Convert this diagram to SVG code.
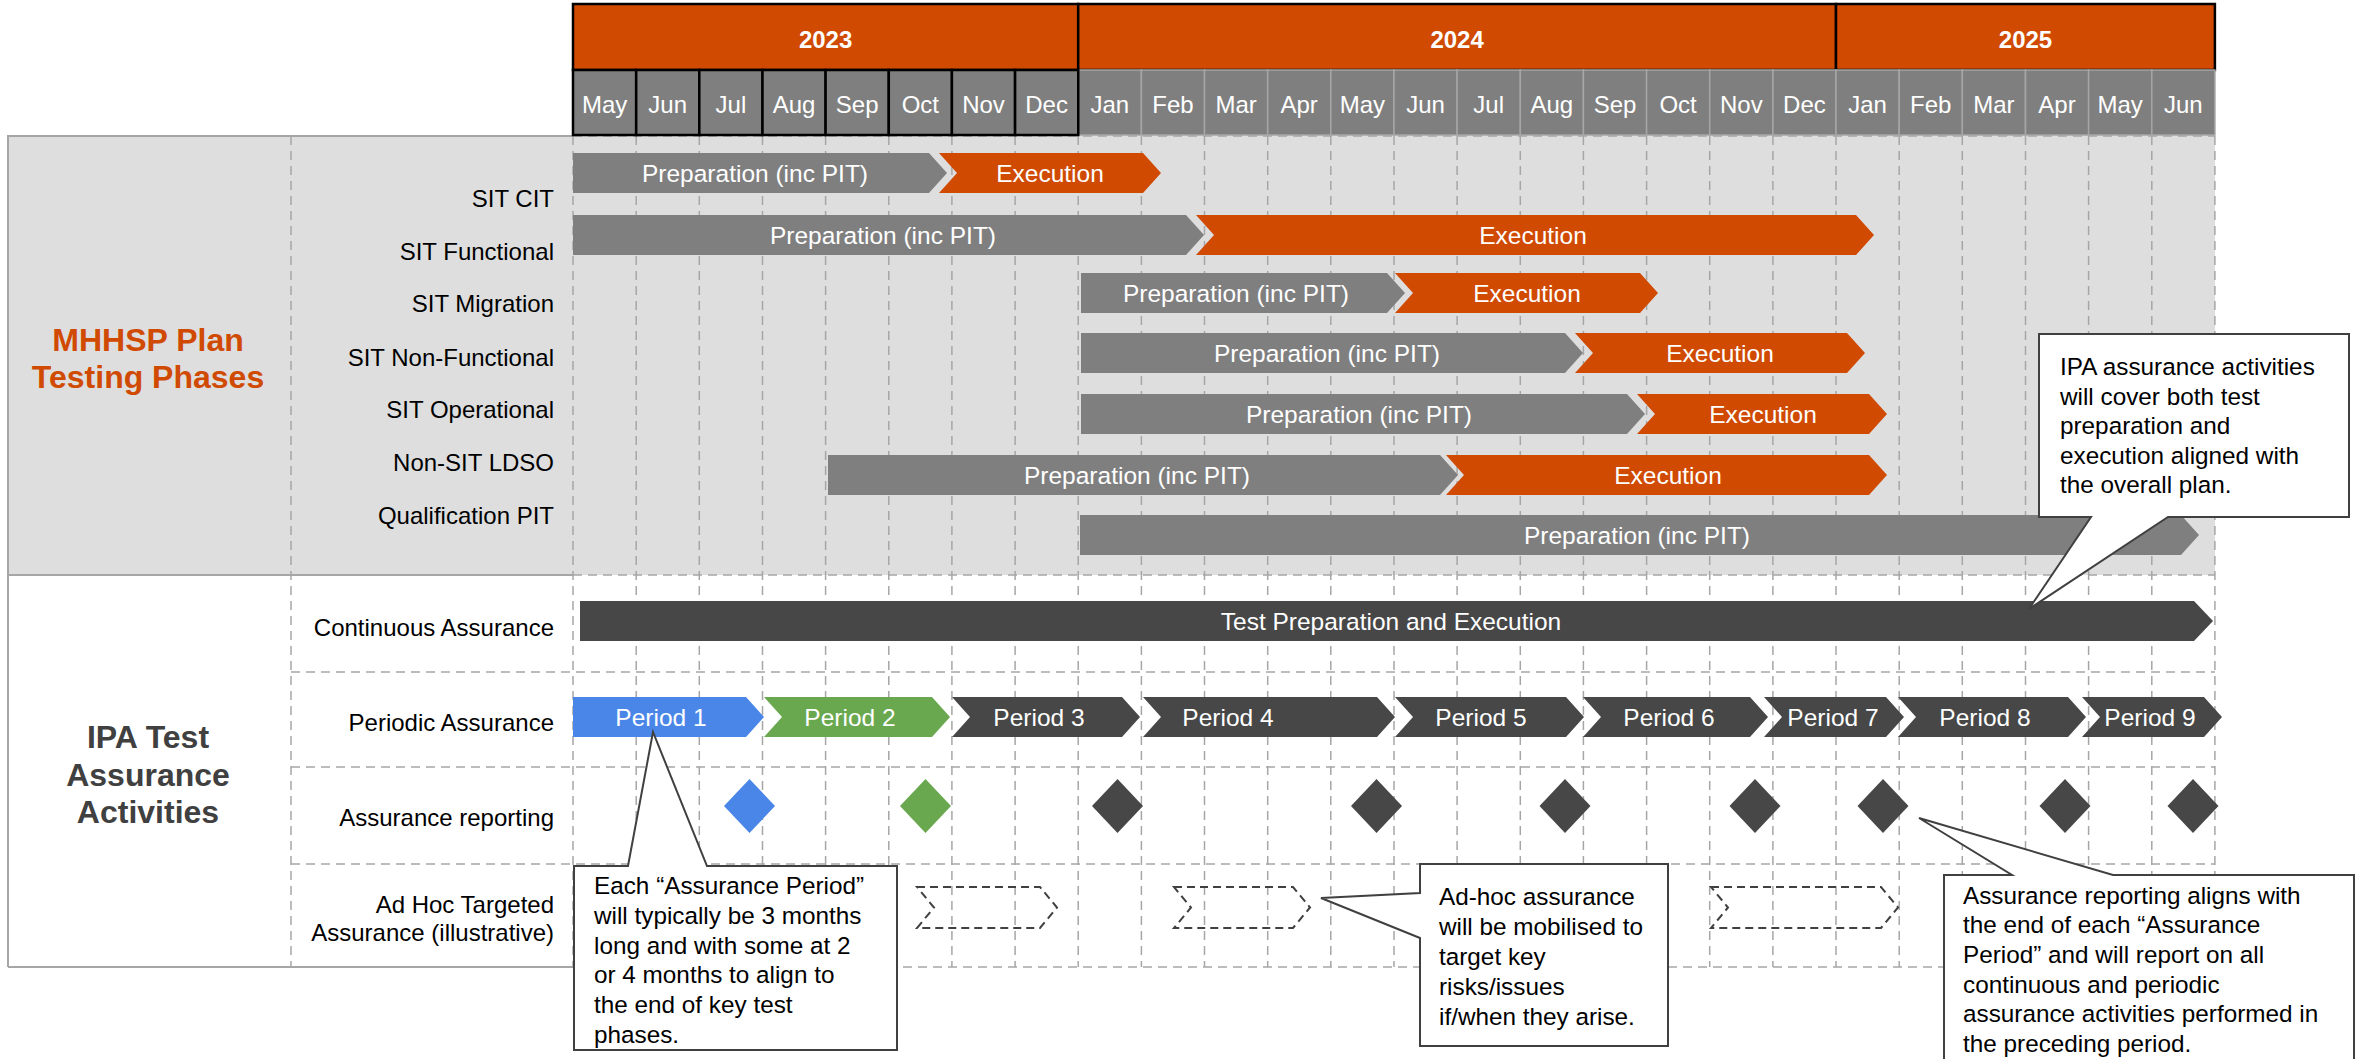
<svg xmlns="http://www.w3.org/2000/svg" width="2357" height="1059" viewBox="0 0 2357 1059">
<style>
text{font-family:"Liberation Sans",Arial,sans-serif;font-size:24.5px}
.yr{fill:#D04A02;stroke:#000;stroke-width:2.5}
.yt{fill:#fff;font-weight:bold;text-anchor:middle;font-size:24px}
.m23{fill:#7F7F7F;stroke:#000;stroke-width:2.5}
.m{fill:#7F7F7F;stroke:#A6A6A6;stroke-width:1.5}
.mt{fill:#fff;text-anchor:middle;font-size:24px}
.grid{stroke:#A6A6A6;stroke-width:1.5;stroke-dasharray:9 6;fill:none}
.solid{stroke:#A6A6A6;stroke-width:2;fill:none}
.lbl{fill:#000;text-anchor:end;font-size:24px}
.prep{fill:#7F7F7F}
.exec{fill:#D04A02}
.dark{fill:#474747}
.blue{fill:#4A86E8}
.green{fill:#6AA84F}
.bt{fill:#fff;text-anchor:middle}
.adhoc{fill:none;stroke:#404040;stroke-width:2;stroke-dasharray:8 5}
.co{fill:#fff;stroke:#404040;stroke-width:2}
.ct{fill:#000;font-size:24.3px}
.sec{font-size:32px;font-weight:bold;text-anchor:middle}
</style>

<!-- backgrounds -->
<rect x="8" y="135" width="2207" height="440" fill="#DEDEDE"/>

<!-- grid -->
<g id="grid">
<path class="grid" d="M291,136V967M573,136V967M636.2,136V967M699.3,136V967M762.5,136V967M825.6,136V967M888.8,136V967M951.9,136V967M1015.1,136V967M1078.2,136V967M1141.4,136V967M1204.5,136V967M1267.7,136V967M1330.8,136V967M1394,136V967M1457.1,136V967M1520.3,136V967M1583.4,136V967M1646.6,136V967M1709.7,136V967M1772.9,136V967M1836,136V967M1899.2,136V967M1962.3,136V967M2025.5,136V967M2088.6,136V967M2151.8,136V967M2214.9,136V967"/>
<path class="grid" d="M573,136H2215M573,575H2215M291,672H2215M291,767H2215M291,864H2215M573,967H2215"/>
<path class="solid" d="M8,135V967M8,136H573M8,575H573M8,967H573"/>
</g>

<!-- header -->
<g id="header">
<rect class="yr" x="573" y="4" width="505.2" height="66"/>
<rect class="yr" x="1078.2" y="4" width="757.8" height="66"/>
<rect class="yr" x="1836" y="4" width="378.9" height="66"/>
<text class="yt" x="825.6" y="48">2023</text>
<text class="yt" x="1457.1" y="48">2024</text>
<text class="yt" x="2025.5" y="48">2025</text>
<rect class="m" x="1078.2" y="70" width="63.15" height="65"/>
<rect class="m" x="1141.4" y="70" width="63.15" height="65"/>
<rect class="m" x="1204.5" y="70" width="63.15" height="65"/>
<rect class="m" x="1267.7" y="70" width="63.15" height="65"/>
<rect class="m" x="1330.8" y="70" width="63.15" height="65"/>
<rect class="m" x="1394" y="70" width="63.15" height="65"/>
<rect class="m" x="1457.1" y="70" width="63.15" height="65"/>
<rect class="m" x="1520.3" y="70" width="63.15" height="65"/>
<rect class="m" x="1583.4" y="70" width="63.15" height="65"/>
<rect class="m" x="1646.6" y="70" width="63.15" height="65"/>
<rect class="m" x="1709.7" y="70" width="63.15" height="65"/>
<rect class="m" x="1772.9" y="70" width="63.15" height="65"/>
<rect class="m" x="1836" y="70" width="63.15" height="65"/>
<rect class="m" x="1899.2" y="70" width="63.15" height="65"/>
<rect class="m" x="1962.3" y="70" width="63.15" height="65"/>
<rect class="m" x="2025.5" y="70" width="63.15" height="65"/>
<rect class="m" x="2088.6" y="70" width="63.15" height="65"/>
<rect class="m" x="2151.8" y="70" width="63.15" height="65"/>
<rect class="m23" x="573" y="70" width="63.15" height="65"/>
<rect class="m23" x="636.2" y="70" width="63.15" height="65"/>
<rect class="m23" x="699.3" y="70" width="63.15" height="65"/>
<rect class="m23" x="762.5" y="70" width="63.15" height="65"/>
<rect class="m23" x="825.6" y="70" width="63.15" height="65"/>
<rect class="m23" x="888.8" y="70" width="63.15" height="65"/>
<rect class="m23" x="951.9" y="70" width="63.15" height="65"/>
<rect class="m23" x="1015.1" y="70" width="63.15" height="65"/>
<text class="mt" x="604.6" y="113">May</text>
<text class="mt" x="667.7" y="113">Jun</text>
<text class="mt" x="730.9" y="113">Jul</text>
<text class="mt" x="794" y="113">Aug</text>
<text class="mt" x="857.2" y="113">Sep</text>
<text class="mt" x="920.3" y="113">Oct</text>
<text class="mt" x="983.5" y="113">Nov</text>
<text class="mt" x="1046.6" y="113">Dec</text>
<text class="mt" x="1109.8" y="113">Jan</text>
<text class="mt" x="1172.9" y="113">Feb</text>
<text class="mt" x="1236.1" y="113">Mar</text>
<text class="mt" x="1299.2" y="113">Apr</text>
<text class="mt" x="1362.4" y="113">May</text>
<text class="mt" x="1425.5" y="113">Jun</text>
<text class="mt" x="1488.7" y="113">Jul</text>
<text class="mt" x="1551.8" y="113">Aug</text>
<text class="mt" x="1615" y="113">Sep</text>
<text class="mt" x="1678.1" y="113">Oct</text>
<text class="mt" x="1741.3" y="113">Nov</text>
<text class="mt" x="1804.4" y="113">Dec</text>
<text class="mt" x="1867.6" y="113">Jan</text>
<text class="mt" x="1930.7" y="113">Feb</text>
<text class="mt" x="1993.9" y="113">Mar</text>
<text class="mt" x="2057" y="113">Apr</text>
<text class="mt" x="2120.2" y="113">May</text>
<text class="mt" x="2183.3" y="113">Jun</text>
</g>

<!-- section titles -->
<g id="section-mhhsp">
<text class="sec" x="148" y="351" fill="#D04A02">MHHSP Plan</text>
<text class="sec" x="148" y="388" fill="#D04A02">Testing Phases</text>
</g>
<g id="section-ipa">
<text class="sec" x="148" y="748" fill="#404040">IPA Test</text>
<text class="sec" x="148" y="786" fill="#404040">Assurance</text>
<text class="sec" x="148" y="823" fill="#404040">Activities</text>
</g>

<!-- row labels -->
<g id="row-labels">
<text class="lbl" x="554" y="207">SIT CIT</text>
<text class="lbl" x="554" y="260">SIT Functional</text>
<text class="lbl" x="554" y="312">SIT Migration</text>
<text class="lbl" x="554" y="366">SIT Non-Functional</text>
<text class="lbl" x="554" y="418">SIT Operational</text>
<text class="lbl" x="554" y="471">Non-SIT LDSO</text>
<text class="lbl" x="554" y="524">Qualification PIT</text>
<text class="lbl" x="554" y="636">Continuous Assurance</text>
<text class="lbl" x="554" y="731">Periodic Assurance</text>
<text class="lbl" x="554" y="826">Assurance reporting</text>
<text class="lbl" x="554" y="913">Ad Hoc Targeted</text>
<text class="lbl" x="554" y="941">Assurance (illustrative)</text>
</g>

<!-- phase bars -->
<g id="sit-cit">
<polygon class="prep" points="573,153 929,153 947,173 929,193 573,193"/>
<text class="bt" x="755" y="181.5">Preparation (inc PIT)</text>
<polygon class="exec" points="939,153 1143,153 1161,173 1143,193 939,193 957,173"/>
<text class="bt" x="1050" y="181.5">Execution</text>
</g>
<g id="sit-functional">
<polygon class="prep" points="573,215 1186,215 1204,235 1186,255 573,255"/>
<text class="bt" x="883" y="243.5">Preparation (inc PIT)</text>
<polygon class="exec" points="1196,215 1856,215 1874,235 1856,255 1196,255 1214,235"/>
<text class="bt" x="1533" y="243.5">Execution</text>
</g>
<g id="sit-migration">
<polygon class="prep" points="1081,273 1387,273 1405,293 1387,313 1081,313"/>
<text class="bt" x="1236" y="301.5">Preparation (inc PIT)</text>
<polygon class="exec" points="1395,273 1640,273 1658,293 1640,313 1395,313 1413,293"/>
<text class="bt" x="1527" y="301.5">Execution</text>
</g>
<g id="sit-nonfunctional">
<polygon class="prep" points="1081,333 1565,333 1583,353 1565,373 1081,373"/>
<text class="bt" x="1327" y="361.5">Preparation (inc PIT)</text>
<polygon class="exec" points="1575,333 1847,333 1865,353 1847,373 1575,373 1593,353"/>
<text class="bt" x="1720" y="361.5">Execution</text>
</g>
<g id="sit-operational">
<polygon class="prep" points="1081,394 1627,394 1645,414 1627,434 1081,434"/>
<text class="bt" x="1359" y="422.5">Preparation (inc PIT)</text>
<polygon class="exec" points="1637,394 1869,394 1887,414 1869,434 1637,434 1655,414"/>
<text class="bt" x="1763" y="422.5">Execution</text>
</g>
<g id="nonsit-ldso">
<polygon class="prep" points="828,455 1440,455 1458,475 1440,495 828,495"/>
<text class="bt" x="1137" y="483.5">Preparation (inc PIT)</text>
<polygon class="exec" points="1446,455 1869,455 1887,475 1869,495 1446,495 1464,475"/>
<text class="bt" x="1668" y="483.5">Execution</text>
</g>
<g id="qualification-pit">
<polygon class="prep" points="1080,515 2181,515 2199,535 2181,555 1080,555"/>
<text class="bt" x="1637" y="543.5">Preparation (inc PIT)</text>
</g>

<!-- assurance -->
<g id="continuous-assurance">
<polygon class="dark" points="580,601 2194,601 2213,621 2194,641 580,641"/>
<text class="bt" x="1391" y="629.5">Test Preparation and Execution</text>
</g>
<g id="periods">
<polygon class="blue" points="573,697 746,697 764,717 746,737 573,737"/>
<text class="bt" x="661" y="725.5">Period 1</text>
<polygon class="green" points="764,697 932,697 950,717 932,737 764,737 782,717"/>
<text class="bt" x="850" y="725.5">Period 2</text>
<polygon class="dark" points="952,697 1122,697 1140,717 1122,737 952,737 970,717"/>
<text class="bt" x="1039" y="725.5">Period 3</text>
<polygon class="dark" points="1143,697 1377,697 1395,717 1377,737 1143,737 1161,717"/>
<text class="bt" x="1228" y="725.5">Period 4</text>
<polygon class="dark" points="1395,697 1566,697 1584,717 1566,737 1395,737 1413,717"/>
<text class="bt" x="1481" y="725.5">Period 5</text>
<polygon class="dark" points="1583,697 1750,697 1768,717 1750,737 1583,737 1601,717"/>
<text class="bt" x="1669" y="725.5">Period 6</text>
<polygon class="dark" points="1764,697 1886,697 1904,717 1886,737 1764,737 1782,717"/>
<text class="bt" x="1833" y="725.5">Period 7</text>
<polygon class="dark" points="1898,697 2068,697 2086,717 2068,737 1898,737 1916,717"/>
<text class="bt" x="1985" y="725.5">Period 8</text>
<polygon class="dark" points="2082,697 2204,697 2222,717 2204,737 2082,737 2100,717"/>
<text class="bt" x="2150" y="725.5">Period 9</text>
</g>
<g id="reporting">
<polygon class="blue" points="749.5,779 775,806 749.5,833 724,806"/>
<polygon class="green" points="925.5,779 951,806 925.5,833 900,806"/>
<polygon class="dark" points="1117.5,779 1143,806 1117.5,833 1092,806"/>
<polygon class="dark" points="1376.5,779 1402,806 1376.5,833 1351,806"/>
<polygon class="dark" points="1565,779 1590.5,806 1565,833 1539.5,806"/>
<polygon class="dark" points="1755,779 1780.5,806 1755,833 1729.5,806"/>
<polygon class="dark" points="1883,779 1908.5,806 1883,833 1857.5,806"/>
<polygon class="dark" points="2065,779 2090.5,806 2065,833 2039.5,806"/>
<polygon class="dark" points="2193,779 2218.5,806 2193,833 2167.5,806"/>
</g>
<g id="adhoc">
<polygon class="adhoc" points="917,887 1040,887 1057,907.5 1040,928 917,928 934,907.5"/>
<polygon class="adhoc" points="1174,887 1293,887 1310,907.5 1293,928 1174,928 1191,907.5"/>
<polygon class="adhoc" points="1711,887 1881,887 1898,907.5 1881,928 1711,928 1728,907.5"/>
</g>

<g id="connectors"></g>

<!-- callouts -->
<g id="callout-ipa">
<path class="co" d="M2039,334H2349V517H2168L2029,609L2091,517H2039Z"/>
<text class="ct" x="2060" y="375">IPA assurance activities</text>
<text class="ct" x="2060" y="404.5">will cover both test</text>
<text class="ct" x="2060" y="434">preparation and</text>
<text class="ct" x="2060" y="463.5">execution aligned with</text>
<text class="ct" x="2060" y="493">the overall plan.</text>
</g>
<g id="callout-period">
<path class="co" d="M574,866H628L653,732L707,866H897V1050H574Z"/>
<text class="ct" x="594" y="894">Each “Assurance Period”</text>
<text class="ct" x="594" y="923.8">will typically be 3 months</text>
<text class="ct" x="594" y="953.6">long and with some at 2</text>
<text class="ct" x="594" y="983.4">or 4 months to align to</text>
<text class="ct" x="594" y="1013.2">the end of key test</text>
<text class="ct" x="594" y="1043">phases.</text>
</g>
<g id="callout-adhoc">
<path class="co" d="M1420,864H1668V1046H1420V938L1321,898L1420,893Z"/>
<text class="ct" x="1439" y="905">Ad-hoc assurance</text>
<text class="ct" x="1439" y="935">will be mobilised to</text>
<text class="ct" x="1439" y="965">target key</text>
<text class="ct" x="1439" y="995">risks/issues</text>
<text class="ct" x="1439" y="1025">if/when they arise.</text>
</g>
<g id="callout-reporting">
<path class="co" d="M1944,1075V875H2012L1919,818L2113,875H2354V1075Z"/>
<text class="ct" x="1963" y="903.5">Assurance reporting aligns with</text>
<text class="ct" x="1963" y="933.2">the end of each “Assurance</text>
<text class="ct" x="1963" y="962.9">Period” and will report on all</text>
<text class="ct" x="1963" y="992.6">continuous and periodic</text>
<text class="ct" x="1963" y="1022.3">assurance activities performed in</text>
<text class="ct" x="1963" y="1052">the preceding period.</text>
</g>
</svg>
